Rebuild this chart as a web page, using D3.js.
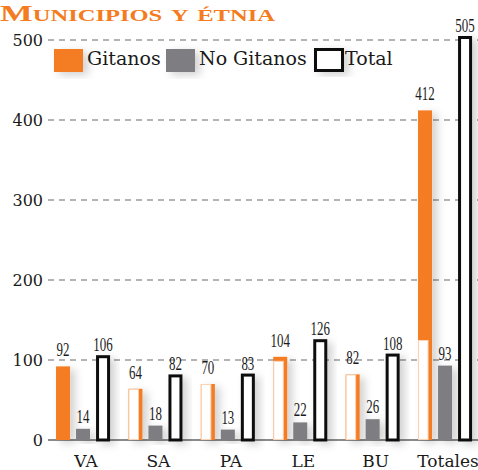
<!DOCTYPE html>
<html>
<head>
<meta charset="utf-8">
<script src="https://cdn.jsdelivr.net/npm/d3@7"></script>
<style>
body{margin:0;background:#fff;}
svg{display:block;}
</style>
</head>
<body>
<script>
//chart data
var categories=["VA","SA","PA","LE","BU","Totales"];
var gitanos=[92,64,70,104,82,412];
var noGitanos=[14,18,13,22,26,93];
var total=[106,82,83,126,108,505];
//height up to which the orange bar is washed out to white
var gitanosFaded=[0,64,70,99,82,125];
var yTicks=[0,100,200,300,400,500];
var seriesNames=["Gitanos","No Gitanos","Total"];

var width=478,height=470;
var orange="#f47b20",grey="#7d7d82";

var svg=d3.select("body").append("svg")
	.attr("width",width)
	.attr("height",height);

//soft shadow used by bars and legend
var defs=svg.append("defs");
defs.append("filter").attr("id","shadow")
	.attr("x","-50%").attr("y","-20%").attr("width","250%").attr("height","150%")
	.append("feDropShadow")
	.attr("dx",5).attr("dy",3).attr("stdDeviation",4)
	.attr("flood-color","#000").attr("flood-opacity",0.18);

//scales
var y=d3.scaleLinear().domain([0,500]).range([440,40]);
var x0=d3.scaleBand().domain(categories).range([48.8,479.3])
	.paddingInner(0.254).paddingOuter(0.1);
var x1=d3.scaleBand().domain(seriesNames).range([0,x0.bandwidth()])
	.paddingInner(0.3).paddingOuter(0);

//title
svg.append("text")
	.attr("x",0).attr("y",21)
	.attr("font-family","Liberation Serif")
	.attr("font-weight","bold")
	.attr("font-size",24)
	.style("font-variant","small-caps")
	.attr("fill",orange)
	.attr("textLength",275)
	.attr("lengthAdjust","spacingAndGlyphs")
	.text("Municipios y étnia");

//gridlines
svg.selectAll(".grid")
	.data(yTicks.filter(function(d){return d>0;}))
	.enter().append("line")
	.attr("class","grid")
	.attr("x1",48).attr("x2",width)
	.attr("y1",function(d){return y(d);})
	.attr("y2",function(d){return y(d);})
	.attr("stroke","#9a9a9a")
	.attr("stroke-width",1.3)
	.attr("stroke-dasharray","6,5");

//baseline
svg.append("line")
	.attr("x1",48).attr("x2",width)
	.attr("y1",y(0)).attr("y2",y(0))
	.attr("stroke","#8a8a8a").attr("stroke-width",2);

//y tick labels
svg.selectAll(".ytick")
	.data(yTicks)
	.enter().append("text")
	.attr("class","ytick")
	.attr("x",43)
	.attr("y",function(d){return y(d)+6;})
	.attr("text-anchor","end")
	.attr("font-family","DejaVu Serif")
	.attr("font-size",16)
	.attr("fill","#1a1a1a")
	.text(function(d){return d;});

//groups
var groups=svg.selectAll(".group")
	.data(categories)
	.enter().append("g")
	.attr("class","group")
	.attr("transform",function(d){return "translate("+x0(d)+",0)";});

var bw=x1.bandwidth();

//gitanos bars
groups.append("rect")
	.attr("x",x1("Gitanos"))
	.attr("y",function(d,i){return y(gitanos[i]);})
	.attr("width",bw)
	.attr("height",function(d,i){return y(0)-y(gitanos[i]);})
	.attr("fill",orange)
	.attr("filter","url(#shadow)");

//washed out part of gitanos bars
groups.filter(function(d,i){return gitanosFaded[i]>0;})
	.append("rect")
	.attr("x",x1("Gitanos")+0.5)
	.attr("y",function(d){var i=categories.indexOf(d);return y(gitanosFaded[i])+0.5;})
	.attr("width",bw-4.5)
	.attr("height",function(d){var i=categories.indexOf(d);return y(0)-y(gitanosFaded[i])-1;})
	.attr("fill","#fff")
	.attr("stroke","#fbd3b4")
	.attr("stroke-width",1);

//no gitanos bars
groups.append("rect")
	.attr("x",x1("No Gitanos"))
	.attr("y",function(d,i){return y(noGitanos[i]);})
	.attr("width",bw)
	.attr("height",function(d,i){return y(0)-y(noGitanos[i]);})
	.attr("fill",grey)
	.attr("filter","url(#shadow)");

//total bars
groups.append("rect")
	.attr("x",x1("Total")+1.5)
	.attr("y",function(d,i){return y(total[i])+1.5;})
	.attr("width",bw-3)
	.attr("height",function(d,i){return y(0)-y(total[i])-1.5;})
	.attr("fill","#fff")
	.attr("stroke","#111")
	.attr("stroke-width",3)
	.attr("filter","url(#shadow)");

//value labels
function addLabels(values,name,gap){
	groups.append("text")
		.attr("transform",function(d,i){
			return "translate("+(x1(name)+bw/2)+","+(y(values[i])-gap)+") scale(0.7,1)";
		})
		.attr("text-anchor","middle")
		.attr("font-family","Liberation Serif")
		.attr("font-size",18.5)
		.attr("fill","#1a1a1a")
		.text(function(d,i){return values[i];});
}
addLabels(gitanos,"Gitanos",10);
addLabels(noGitanos,"No Gitanos",6);
addLabels(total,"Total",4);

//category labels
groups.append("text")
	.attr("x",x0.bandwidth()/2+3)
	.attr("y",467)
	.attr("text-anchor","middle")
	.attr("font-family","DejaVu Serif")
	.attr("font-size",17)
	.attr("fill","#1a1a1a")
	.text(function(d){return d;});

//legend
var legendX=[54,166,314];
var legend=svg.selectAll(".legend")
	.data(seriesNames)
	.enter().append("g")
	.attr("class","legend")
	.attr("transform",function(d,i){return "translate("+legendX[i]+",49)";});

legend.append("rect")
	.attr("x",function(d,i){return i==2?1.5:0;})
	.attr("y",function(d,i){return i==2?0.5:0;})
	.attr("width",function(d,i){return i==2?27:29;})
	.attr("height",function(d,i){return i==2?21:23;})
	.attr("fill",function(d,i){return i==0?orange:(i==1?grey:"#fff");})
	.attr("stroke",function(d,i){return i==2?"#111":"none";})
	.attr("stroke-width",3)
	.attr("filter","url(#shadow)");

legend.append("text")
	.attr("x",function(d,i){return i==2?31:33;})
	.attr("y",16)
	.attr("font-family","DejaVu Serif")
	.attr("font-size",19)
	.attr("fill","#1a1a1a")
	.text(function(d){return d;});
</script>
</body>
</html>
